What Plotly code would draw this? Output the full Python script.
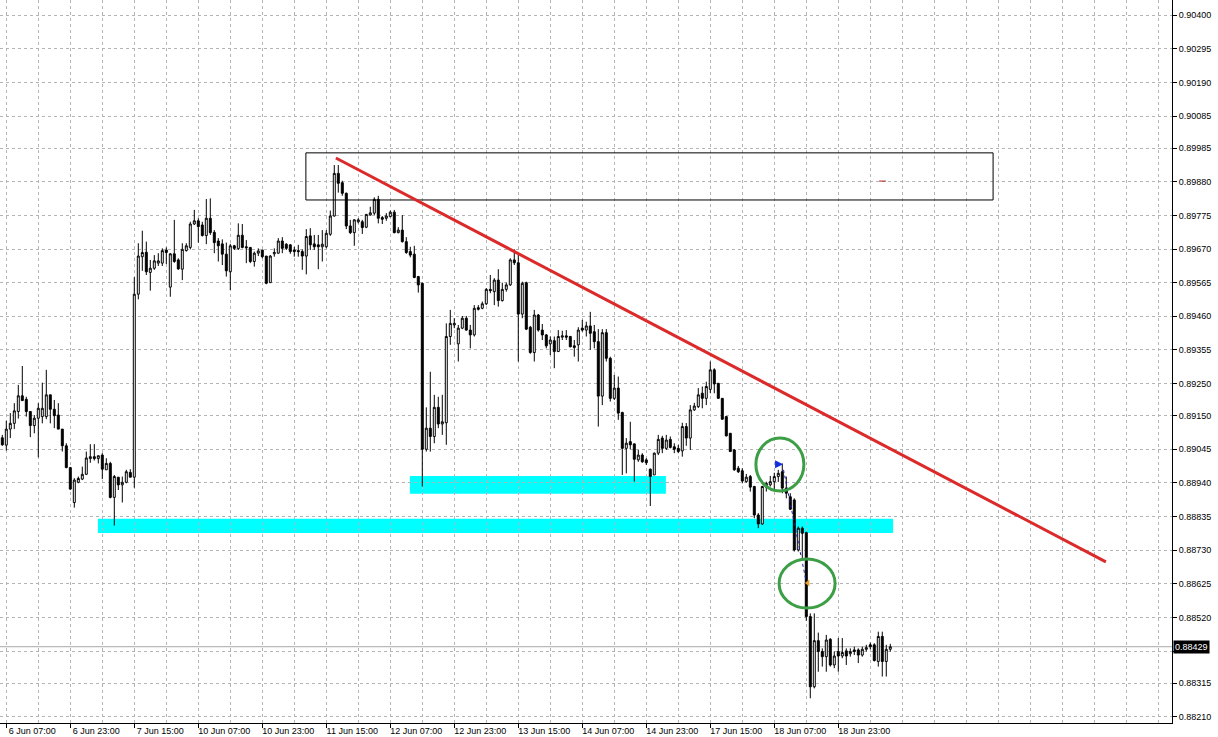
import plotly.graph_objects as go

# ---- OHLC data (hourly bars, first bar = 6 Jun 06:00) ----
open_ = [0.89081, 0.89058, 0.89108, 0.89126, 0.89163, 0.89212, 0.89201, 0.89163, 0.89119, 0.89142,
         0.89147, 0.89147, 0.89215, 0.89170, 0.89152, 0.89108, 0.89056, 0.88988, 0.88879, 0.88942,
         0.88952, 0.88967, 0.89016, 0.89022, 0.89016, 0.89027, 0.88981, 0.89001, 0.88895, 0.88958,
         0.88934, 0.88942, 0.88973, 0.88958, 0.89529, 0.89646, 0.89660, 0.89597, 0.89610, 0.89626,
         0.89626, 0.89667, 0.89551, 0.89655, 0.89636, 0.89607, 0.89665, 0.89675, 0.89748, 0.89758,
         0.89745, 0.89712, 0.89766, 0.89722, 0.89695, 0.89686, 0.89654, 0.89599, 0.89680, 0.89671,
         0.89713, 0.89677, 0.89675, 0.89631, 0.89657, 0.89667, 0.89648, 0.89565, 0.89655, 0.89657,
         0.89695, 0.89685, 0.89683, 0.89667, 0.89665, 0.89662, 0.89648, 0.89711, 0.89686, 0.89683,
         0.89677, 0.89677, 0.89716, 0.89773, 0.89906, 0.89877, 0.89844, 0.89742, 0.89721, 0.89755,
         0.89755, 0.89738, 0.89776, 0.89782, 0.89825, 0.89768, 0.89766, 0.89771, 0.89785, 0.89721,
         0.89729, 0.89693, 0.89662, 0.89654, 0.89584, 0.89563, 0.89045, 0.89111, 0.89085, 0.89176,
         0.89124, 0.89128, 0.89397, 0.89433, 0.89374, 0.89423, 0.89454, 0.89417, 0.89402, 0.89487,
         0.89485, 0.89499, 0.89544, 0.89537, 0.89573, 0.89509, 0.89544, 0.89558, 0.89636, 0.89627,
         0.89467, 0.89565, 0.89426, 0.89347, 0.89464, 0.89417, 0.89402, 0.89374, 0.89384, 0.89350,
         0.89395, 0.89399, 0.89397, 0.89368, 0.89371, 0.89423, 0.89417, 0.89430, 0.89412, 0.89381,
         0.89211, 0.89409, 0.89329, 0.89204, 0.89236, 0.89160, 0.89048, 0.89069, 0.89062, 0.89012,
         0.89027, 0.89012, 0.88983, 0.88965, 0.89033, 0.89080, 0.89048, 0.89076, 0.89053, 0.89048,
         0.89040, 0.89116, 0.89080, 0.89168, 0.89178, 0.89220, 0.89204, 0.89232, 0.89293, 0.89251,
         0.89204, 0.89147, 0.89095, 0.89043, 0.88986, 0.88978, 0.88944, 0.88960, 0.88929, 0.88840,
         0.88812, 0.88927, 0.88934, 0.88944, 0.88960, 0.88975, 0.88924, 0.88897, 0.88887, 0.88731,
         0.88799, 0.88785, 0.88523, 0.88304, 0.88448, 0.88414, 0.88398, 0.88452, 0.88372, 0.88414,
         0.88400, 0.88416, 0.88407, 0.88419, 0.88419, 0.88403, 0.88421, 0.88435, 0.88435, 0.88383,
         0.88461, 0.88383, 0.88421]

high = [0.89090, 0.89134, 0.89158, 0.89189, 0.89246, 0.89305, 0.89209, 0.89163, 0.89152, 0.89189,
        0.89253, 0.89293, 0.89215, 0.89199, 0.89189, 0.89108, 0.89064, 0.88988, 0.88955, 0.88960,
        0.88991, 0.89038, 0.89061, 0.89061, 0.89025, 0.89033, 0.89017, 0.89006, 0.88965, 0.88958,
        0.88960, 0.88981, 0.88983, 0.89582, 0.89688, 0.89727, 0.89693, 0.89636, 0.89651, 0.89657,
        0.89672, 0.89675, 0.89657, 0.89761, 0.89641, 0.89688, 0.89688, 0.89755, 0.89792, 0.89766,
        0.89755, 0.89826, 0.89828, 0.89729, 0.89704, 0.89700, 0.89690, 0.89686, 0.89683, 0.89750,
        0.89748, 0.89698, 0.89675, 0.89662, 0.89672, 0.89667, 0.89648, 0.89651, 0.89672, 0.89704,
        0.89707, 0.89688, 0.89685, 0.89677, 0.89683, 0.89669, 0.89732, 0.89735, 0.89714, 0.89714,
        0.89729, 0.89729, 0.89790, 0.89932, 0.89932, 0.89883, 0.89846, 0.89761, 0.89763, 0.89766,
        0.89761, 0.89779, 0.89802, 0.89831, 0.89836, 0.89773, 0.89782, 0.89790, 0.89792, 0.89738,
        0.89776, 0.89707, 0.89677, 0.89680, 0.89586, 0.89565, 0.89176, 0.89287, 0.89215, 0.89209,
        0.89215, 0.89438, 0.89480, 0.89454, 0.89433, 0.89461, 0.89461, 0.89433, 0.89495, 0.89495,
        0.89506, 0.89548, 0.89589, 0.89579, 0.89607, 0.89565, 0.89565, 0.89641, 0.89669, 0.89657,
        0.89568, 0.89568, 0.89430, 0.89480, 0.89467, 0.89436, 0.89405, 0.89397, 0.89397, 0.89417,
        0.89415, 0.89417, 0.89399, 0.89386, 0.89426, 0.89449, 0.89443, 0.89474, 0.89433, 0.89420,
        0.89420, 0.89420, 0.89334, 0.89277, 0.89272, 0.89162, 0.89080, 0.89131, 0.89062, 0.89043,
        0.89033, 0.89017, 0.88985, 0.89035, 0.89090, 0.89087, 0.89090, 0.89085, 0.89064, 0.89059,
        0.89128, 0.89127, 0.89183, 0.89190, 0.89236, 0.89241, 0.89256, 0.89319, 0.89298, 0.89251,
        0.89204, 0.89149, 0.89096, 0.89046, 0.88993, 0.88986, 0.88968, 0.88965, 0.88931, 0.88846,
        0.88931, 0.88944, 0.88962, 0.88972, 0.88981, 0.89001, 0.88960, 0.88908, 0.88892, 0.88804,
        0.88804, 0.88788, 0.88533, 0.88533, 0.88473, 0.88424, 0.88466, 0.88456, 0.88414, 0.88456,
        0.88456, 0.88424, 0.88424, 0.88429, 0.88424, 0.88429, 0.88435, 0.88442, 0.88440, 0.88476,
        0.88476, 0.88435, 0.88438]

low = [0.89056, 0.89041, 0.89080, 0.89108, 0.89141, 0.89197, 0.89147, 0.89083, 0.89095, 0.89020,
       0.89126, 0.89139, 0.89126, 0.89111, 0.89108, 0.89038, 0.88986, 0.88918, 0.88863, 0.88939,
       0.88949, 0.88965, 0.89003, 0.89010, 0.89001, 0.88952, 0.88981, 0.88892, 0.88807, 0.88918,
       0.88879, 0.88939, 0.88958, 0.88925, 0.89513, 0.89602, 0.89589, 0.89540, 0.89605, 0.89617,
       0.89617, 0.89623, 0.89521, 0.89627, 0.89605, 0.89573, 0.89662, 0.89669, 0.89745, 0.89690,
       0.89709, 0.89685, 0.89714, 0.89657, 0.89631, 0.89620, 0.89584, 0.89542, 0.89667, 0.89667,
       0.89672, 0.89626, 0.89626, 0.89615, 0.89648, 0.89641, 0.89560, 0.89565, 0.89646, 0.89655,
       0.89657, 0.89667, 0.89655, 0.89646, 0.89646, 0.89605, 0.89591, 0.89667, 0.89667, 0.89607,
       0.89631, 0.89672, 0.89711, 0.89771, 0.89846, 0.89836, 0.89732, 0.89717, 0.89680, 0.89750,
       0.89717, 0.89735, 0.89774, 0.89776, 0.89750, 0.89748, 0.89758, 0.89769, 0.89719, 0.89719,
       0.89690, 0.89655, 0.89644, 0.89579, 0.89534, 0.88929, 0.89038, 0.89038, 0.89064, 0.89111,
       0.89090, 0.89059, 0.89371, 0.89423, 0.89319, 0.89420, 0.89415, 0.89360, 0.89397, 0.89478,
       0.89482, 0.89495, 0.89532, 0.89495, 0.89490, 0.89506, 0.89537, 0.89555, 0.89620, 0.89319,
       0.89454, 0.89417, 0.89343, 0.89319, 0.89412, 0.89386, 0.89360, 0.89339, 0.89298, 0.89350,
       0.89386, 0.89386, 0.89363, 0.89334, 0.89319, 0.89412, 0.89397, 0.89355, 0.89360, 0.89116,
       0.89183, 0.89319, 0.89194, 0.89199, 0.89137, 0.88965, 0.88970, 0.89045, 0.88944, 0.89006,
       0.89003, 0.88996, 0.88868, 0.88965, 0.89027, 0.89033, 0.89043, 0.89048, 0.89033, 0.89033,
       0.89022, 0.89056, 0.89043, 0.89165, 0.89174, 0.89173, 0.89183, 0.89220, 0.89220, 0.89204,
       0.89137, 0.89085, 0.89037, 0.88978, 0.88971, 0.88939, 0.88941, 0.88913, 0.88830, 0.88799,
       0.88809, 0.88913, 0.88929, 0.88918, 0.88943, 0.88908, 0.88892, 0.88856, 0.88726, 0.88726,
       0.88705, 0.88510, 0.88268, 0.88299, 0.88351, 0.88367, 0.88351, 0.88367, 0.88362, 0.88351,
       0.88393, 0.88372, 0.88398, 0.88403, 0.88378, 0.88398, 0.88414, 0.88421, 0.88383, 0.88367,
       0.88336, 0.88336, 0.88414]

close = [0.89059, 0.89108, 0.89126, 0.89165, 0.89212, 0.89197, 0.89163, 0.89119, 0.89142, 0.89173,
         0.89173, 0.89215, 0.89170, 0.89150, 0.89108, 0.89056, 0.88988, 0.88921, 0.88949, 0.88954,
         0.88967, 0.89018, 0.89022, 0.89016, 0.89025, 0.88983, 0.89001, 0.88895, 0.88960, 0.88934,
         0.88942, 0.88975, 0.88958, 0.89529, 0.89648, 0.89659, 0.89599, 0.89610, 0.89633, 0.89633,
         0.89665, 0.89659, 0.89655, 0.89631, 0.89608, 0.89669, 0.89680, 0.89748, 0.89758, 0.89740,
         0.89712, 0.89766, 0.89721, 0.89690, 0.89680, 0.89654, 0.89602, 0.89680, 0.89672, 0.89713,
         0.89675, 0.89674, 0.89631, 0.89657, 0.89664, 0.89646, 0.89563, 0.89648, 0.89659, 0.89695,
         0.89672, 0.89672, 0.89662, 0.89662, 0.89662, 0.89648, 0.89709, 0.89683, 0.89677, 0.89677,
         0.89685, 0.89719, 0.89773, 0.89906, 0.89875, 0.89844, 0.89742, 0.89721, 0.89761, 0.89761,
         0.89737, 0.89778, 0.89783, 0.89825, 0.89766, 0.89763, 0.89773, 0.89785, 0.89721, 0.89729,
         0.89693, 0.89659, 0.89651, 0.89581, 0.89558, 0.89045, 0.89111, 0.89085, 0.89176, 0.89124,
         0.89131, 0.89397, 0.89438, 0.89438, 0.89423, 0.89454, 0.89417, 0.89402, 0.89485, 0.89482,
         0.89499, 0.89544, 0.89540, 0.89573, 0.89509, 0.89544, 0.89558, 0.89636, 0.89627, 0.89467,
         0.89563, 0.89420, 0.89347, 0.89464, 0.89417, 0.89402, 0.89368, 0.89386, 0.89350, 0.89397,
         0.89399, 0.89395, 0.89365, 0.89363, 0.89417, 0.89417, 0.89430, 0.89407, 0.89381, 0.89211,
         0.89409, 0.89329, 0.89204, 0.89236, 0.89158, 0.89048, 0.89064, 0.89059, 0.89014, 0.89027,
         0.89006, 0.89003, 0.88960, 0.89033, 0.89076, 0.89048, 0.89074, 0.89051, 0.89045, 0.89038,
         0.89116, 0.89080, 0.89168, 0.89180, 0.89215, 0.89204, 0.89241, 0.89293, 0.89249, 0.89204,
         0.89139, 0.89087, 0.89038, 0.88981, 0.88975, 0.88946, 0.88958, 0.88927, 0.88840, 0.88812,
         0.88929, 0.88939, 0.88944, 0.88960, 0.88970, 0.88924, 0.88908, 0.88858, 0.88731, 0.88799,
         0.88783, 0.88523, 0.88304, 0.88448, 0.88414, 0.88398, 0.88450, 0.88372, 0.88400, 0.88400,
         0.88411, 0.88400, 0.88414, 0.88414, 0.88403, 0.88421, 0.88426, 0.88429, 0.88386, 0.88461,
         0.88383, 0.88421, 0.88429]

# ---- axis labels ----
x_tick_labels = ["6 Jun 07:00", "6 Jun 23:00", "7 Jun 15:00", "10 Jun 07:00", "10 Jun 23:00",
                 "11 Jun 15:00", "12 Jun 07:00", "12 Jun 23:00", "13 Jun 15:00", "14 Jun 07:00",
                 "14 Jun 23:00", "17 Jun 15:00", "18 Jun 07:00", "18 Jun 23:00"]
y_tick_values = [0.90400, 0.90295, 0.90190, 0.90085, 0.89985, 0.89880, 0.89775,
                 0.89670, 0.89565, 0.89460, 0.89355, 0.89250, 0.89150, 0.89045,
                 0.88940, 0.88835, 0.88730, 0.88625, 0.88520, 0.88415, 0.88315,
                 0.88210]
# the 0.88415 label sits behind the last-price box in the original
y_tick_labels = ["0.90400", "0.90295", "0.90190", "0.90085", "0.89985", "0.89880", "0.89775",
                 "0.89670", "0.89565", "0.89460", "0.89355", "0.89250", "0.89150", "0.89045",
                 "0.88940", "0.88835", "0.88730", "0.88625", "0.88520", "", "0.88315",
                 "0.88210"]
last_price = 0.88429

# ---- drawn objects (bar index, price) ----
trend_x = [83.4, 275.9]
trend_y = [0.89954, 0.88694]
box_x = [75.9, 247.7]
box_y = [0.89823, 0.89970]
mark_x = [219.2, 220.9]
mark_y = 0.89882
zone1_x = [23.9, 222.7]
zone1_y = [0.88784, 0.88828]
zone2_x = [101.9, 165.9]
zone2_y = [0.88906, 0.88962]
circle1_x = [188.4, 200.4]
circle1_y = [0.88915, 0.89080]
circle2_x = [194.2, 208.2]
circle2_y = [0.88550, 0.88703]
arrow_pt = (195.2, 0.88998)
trade_line_x = [195.3, 200.9]
trade_line_y = [0.88981, 0.88637]
close_pt = (201.4, 0.88628)

GRID = "#b4b4b4"
GDASH = "3px,3px"

x = list(range(len(open_)))

fig = go.Figure()
fig.add_trace(go.Candlestick(
    x=x, open=open_, high=high, low=low, close=close,
    increasing=dict(line=dict(color="black", width=1), fillcolor="white"),
    decreasing=dict(line=dict(color="black", width=1), fillcolor="black"),
    whiskerwidth=0, showlegend=False, hoverinfo="skip"))

fig.add_trace(go.Scatter(x=trade_line_x, y=trade_line_y, mode="lines",
                         line=dict(color="#1a1aa0", width=1, dash="dot"),
                         showlegend=False, hoverinfo="skip"))
fig.add_trace(go.Scatter(x=[arrow_pt[0]], y=[arrow_pt[1]], mode="markers",
                         marker=dict(symbol="arrow-right", size=8, color="#1030e0"),
                         showlegend=False, hoverinfo="skip"))
fig.add_trace(go.Scatter(x=[close_pt[0]], y=[close_pt[1]], mode="markers",
                         marker=dict(symbol="triangle-left", size=6, color="#e8a030"),
                         showlegend=False, hoverinfo="skip"))

shapes = [
    dict(type="rect", xref="x", yref="y", x0=zone1_x[0], x1=zone1_x[1], y0=zone1_y[0], y1=zone1_y[1],
         fillcolor="#00ffff", line=dict(width=0), layer="below"),
    dict(type="rect", xref="x", yref="y", x0=zone2_x[0], x1=zone2_x[1], y0=zone2_y[0], y1=zone2_y[1],
         fillcolor="#00ffff", line=dict(width=0), layer="below"),
    dict(type="line", xref="paper", yref="y", x0=0, x1=1, y0=last_price, y1=last_price,
         line=dict(color="#a8a8a8", width=1), layer="below"),
    dict(type="rect", xref="x", yref="y", x0=box_x[0], x1=box_x[1], y0=box_y[0], y1=box_y[1],
         line=dict(color="black", width=1), fillcolor="rgba(0,0,0,0)", layer="above"),
    dict(type="line", xref="x", yref="y", x0=mark_x[0], x1=mark_x[1], y0=mark_y, y1=mark_y,
         line=dict(color="#b02020", width=1), layer="above"),
    dict(type="line", xref="x", yref="y", x0=trend_x[0], x1=trend_x[1], y0=trend_y[0], y1=trend_y[1],
         line=dict(color="#dc2a2a", width=3), layer="above"),
    dict(type="circle", xref="x", yref="y", x0=circle1_x[0], x1=circle1_x[1], y0=circle1_y[0], y1=circle1_y[1],
         line=dict(color="#3c9f46", width=3), layer="above"),
    dict(type="circle", xref="x", yref="y", x0=circle2_x[0], x1=circle2_x[1], y0=circle2_y[0], y1=circle2_y[1],
         line=dict(color="#3c9f46", width=3), layer="above"),
]

fig.update_layout(
    width=1218, height=737,
    margin=dict(l=0, r=46, t=0, b=14),
    paper_bgcolor="white", plot_bgcolor="white",
    showlegend=False,
    font=dict(family="Liberation Sans, Arial, sans-serif", size=9, color="black"),
    shapes=shapes,
    xaxis=dict(
        range=[-0.575, 292.43], rangeslider=dict(visible=False), automargin=False,
        tickmode="array", tickvals=[1 + 16 * k for k in range(len(x_tick_labels))],
        ticktext=x_tick_labels, ticks="outside", ticklen=4, tickcolor="black",
        ticklabelshift=26, ticklabelstandoff=-5,
        showline=True, linecolor="black", linewidth=1,
        showgrid=True, gridcolor=GRID, griddash=GDASH, gridwidth=1, zeroline=False,
        minor=dict(tickmode="linear", tick0=1, dtick=8, showgrid=True,
                   gridcolor=GRID, griddash=GDASH, ticks=""),
    ),
    yaxis=dict(
        side="right", range=[0.88191, 0.90447], automargin=False,
        tickmode="array", tickvals=y_tick_values, ticktext=y_tick_labels,
        ticks="outside", ticklen=4, tickcolor="black", ticklabelstandoff=0,
        showline=True, linecolor="black", linewidth=1,
        showgrid=True, gridcolor=GRID, griddash=GDASH, gridwidth=1, zeroline=False,
    ),
    annotations=[dict(xref="paper", yref="y", x=1, y=last_price, xanchor="left", xshift=1,
                      text=f"{last_price:.5f}", showarrow=False, bgcolor="black",
                      font=dict(color="white", size=9), borderpad=1)],
)

fig.write_html("out.html", config={"displayModeBar": False},
               post_script="document.body.style.margin='0';document.body.style.overflow='hidden';")
